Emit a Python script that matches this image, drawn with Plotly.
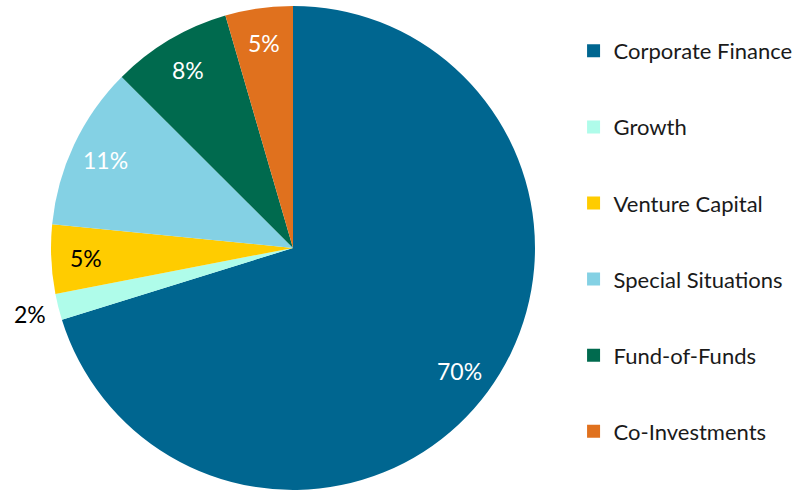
import math
import plotly.graph_objects as go

categories = ["Corporate Finance", "Growth", "Venture Capital", "Special Situations", "Fund-of-Funds", "Co-Investments"]
shares = [70.1, 1.75, 4.6, 10.9, 8.0, 4.5]
colors = ["#006690", "#AFFCEA", "#FFCC00", "#84D1E4", "#006A4E", "#E0711E"]
text_colors = ["white", "black", "black", "white", "white", "white"]

W, H = 805, 490
dom_x = [51 / W, 535 / W]
dom_y = [0, 0.988]

fig = go.Figure()
fig.add_trace(go.Pie(
    labels=categories, values=shares, sort=False, direction="clockwise", rotation=0,
    marker=dict(colors=colors, line=dict(width=0)),
    textinfo="none",
    domain=dict(x=dom_x, y=dom_y),
    showlegend=False, hoverinfo="label+percent",
))
for c, col in zip(categories, colors):
    fig.add_trace(go.Scatter(
        x=[None], y=[None], mode="markers", name=c, legendgroup=c,
        marker=dict(symbol="square", size=13, color=col), showlegend=True,
    ))

# percentage labels placed along each slice's mid-angle (Excel "best fit" style)
total = sum(shares)
cx = W * (dom_x[0] + dom_x[1]) / 2
cy = H * (1 - (dom_y[0] + dom_y[1]) / 2)
r = min(W * (dom_x[1] - dom_x[0]), H * (dom_y[1] - dom_y[0])) / 2
cum = 0.0
annotations = []
for v, tc in zip(shares, text_colors):
    theta = 2 * math.pi * (cum + v / 2) / total
    cum += v
    f = 1.12 if v / total < 0.03 else 0.855
    px = cx + f * r * math.sin(theta)
    py = cy - f * r * math.cos(theta)
    annotations.append(dict(
        x=px / W, y=1 - py / H, xref="paper", yref="paper", showarrow=False,
        text=f"{round(100 * v / total)}%",
        font=dict(family="Lato", size=23, color=tc),
        xanchor="center", yanchor="middle",
    ))

fig.update_layout(
    width=W, height=H, margin=dict(l=0, r=0, t=0, b=0),
    paper_bgcolor="white", plot_bgcolor="white",
    xaxis=dict(visible=False, domain=[0.7, 0.71]), yaxis=dict(visible=False),
    legend=dict(x=0.7125, y=0.9388, xanchor="left", yanchor="top",
                font=dict(family="Lato", size=22, color="#1a1a1a"),
                tracegroupgap=44.5, itemwidth=30, bgcolor="rgba(0,0,0,0)"),
    annotations=annotations,
    font=dict(family="Lato"),
)
fig.write_html("out.html", config={"displayModeBar": False},
               post_script="document.body.style.margin='0px';")
